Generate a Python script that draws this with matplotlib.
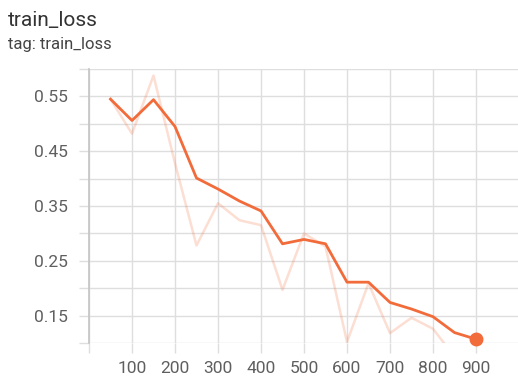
import matplotlib
matplotlib.use("Agg")
import matplotlib.pyplot as plt
from matplotlib.ticker import FixedLocator

plt.rcParams['font.family'] = ['Roboto', 'DejaVu Sans']

steps = [50, 100, 150, 200, 250, 300, 350, 400, 450, 500, 550, 600, 650, 700, 750, 800, 850, 900]
smoothed = [0.545, 0.506, 0.544, 0.495, 0.401, 0.381, 0.359, 0.341, 0.281, 0.289, 0.281,
            0.211, 0.211, 0.174, 0.162, 0.148, 0.119, 0.107]
raw = [0.545, 0.482, 0.588, 0.428, 0.278, 0.355, 0.324, 0.315, 0.197, 0.300, 0.276,
       0.102, 0.209, 0.118, 0.146, 0.126, 0.075, 0.092]
x_ticks = [100, 200, 300, 400, 500, 600, 700, 800, 900]
y_ticks = [0.15, 0.25, 0.35, 0.45, 0.55]

color = '#f26b3a'
grid_c = '#dedede'

fig = plt.figure(figsize=(5.18, 3.76), dpi=100)
ax = fig.add_axes([89/518, 33/376, 430/518, 274/376])

ax.plot(steps, raw, color=color, alpha=0.22, lw=1.8, zorder=2)
ax.plot(steps, smoothed, color=color, lw=2.0, zorder=3)
ax.plot([steps[-1]], [smoothed[-1]], 'o', color=color, ms=9, zorder=4, clip_on=False)

ax.set_xlim(0, 1000)
ax.set_ylim(0.10, 0.60)

ax.xaxis.set_major_locator(FixedLocator(x_ticks))
ax.xaxis.set_minor_locator(FixedLocator([0, 1000]))
ax.yaxis.set_major_locator(FixedLocator(y_ticks))
ax.yaxis.set_minor_locator(FixedLocator([0.10, 0.20, 0.30, 0.40, 0.50, 0.60]))

ax.grid(True, which='both', color=grid_c, lw=1.0, zorder=0)
ax.tick_params(axis='both', which='both', length=7, width=1.0, color=grid_c,
               labelcolor='#5f5f5f', labelsize=12.5)
ax.tick_params(axis='y', pad=8)
ax.tick_params(axis='x', pad=6)
for s in ['top', 'right', 'bottom']:
    ax.spines[s].set_visible(False)
ax.spines['left'].set_color('#c4c4c4')
ax.spines['left'].set_linewidth(1.2)

fig.text(8/518, 1 - 21/376, 'train_loss', fontsize=15, color='#333333', va='center', ha='left')
fig.text(8/518, 1 - 44/376, 'tag: train_loss', fontsize=12, color='#444444', va='center', ha='left')

fig.savefig('out.png', dpi=100)
